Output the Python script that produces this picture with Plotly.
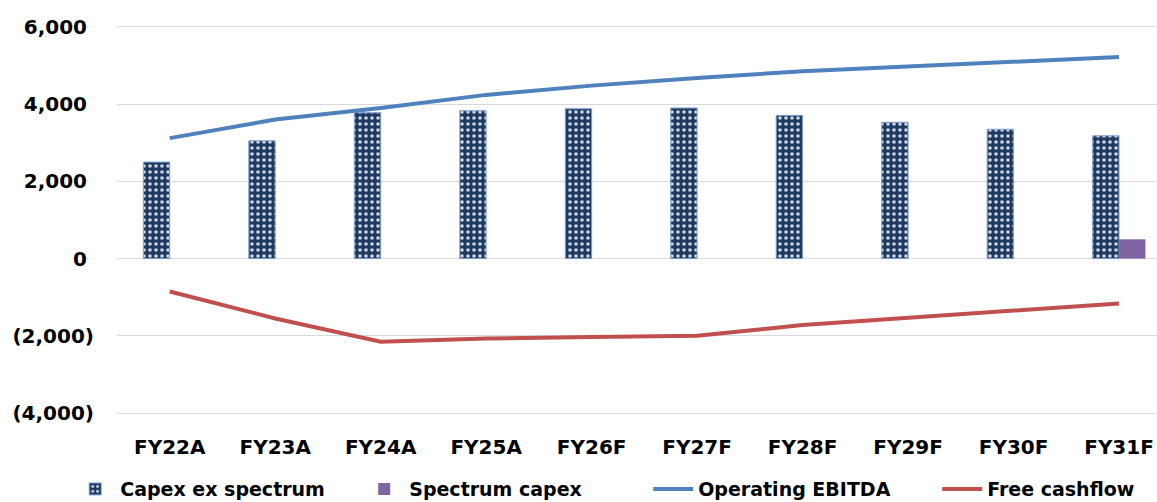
import plotly.graph_objects as go

# Fiscal years and series values
years = ["FY22A", "FY23A", "FY24A", "FY25A", "FY26F", "FY27F", "FY28F", "FY29F", "FY30F", "FY31F"]
capex_ex_spectrum = [2500, 3050, 3780, 3830, 3880, 3900, 3710, 3530, 3350, 3180]
spectrum_capex = [0, 0, 0, 0, 0, 0, 0, 0, 0, 500]
operating_ebitda = [3120, 3600, 3900, 4240, 4480, 4680, 4850, 4970, 5090, 5220]
free_cashflow = [-850, -1550, -2150, -2070, -2030, -2000, -1720, -1540, -1350, -1160]

y_ticks = [6000, 4000, 2000, 0, -2000, -4000]
y_tick_labels = ["6,000\u00a0", "4,000\u00a0", "2,000\u00a0", "0\u00a0", "(2,000)", "(4,000)"]

FONT = "DejaVu Sans"

fig = go.Figure()

fig.add_trace(go.Bar(
    x=years, y=capex_ex_spectrum, name="Capex ex spectrum",
    marker=dict(
        color="#1f3a60",
        line=dict(color="#7f9fcf", width=1),
        pattern=dict(shape=".", fgcolor="#cfd8e4", bgcolor="#1f3a60",
                     size=6, solidity=0.28, fillmode="replace"),
    ),
))
fig.add_trace(go.Bar(
    x=years, y=spectrum_capex, name="Spectrum capex",
    marker=dict(color="#8064a2", line=dict(width=0)),
))
fig.add_trace(go.Scatter(
    x=years, y=operating_ebitda, name="Operating EBITDA", mode="lines",
    line=dict(color="#4f81bd", width=4),
))
fig.add_trace(go.Scatter(
    x=years, y=free_cashflow, name="Free cashflow", mode="lines",
    line=dict(color="#c0504d", width=4),
))

fig.update_layout(
    width=1157, height=502,
    margin=dict(l=117, r=0, t=25, b=87, autoexpand=False),
    paper_bgcolor="white", plot_bgcolor="white",
    barmode="group", bargap=0.5, bargroupgap=0,
    font=dict(family=FONT, size=20, color="#000000"),
    showlegend=True,
    legend=dict(
        orientation="h", x=-0.045, xanchor="left", y=-0.19, yanchor="middle",
        font=dict(family=FONT, size=19, color="#000000", weight="bold"),
        itemwidth=40, tracegroupgap=0,
        entrywidth=234, entrywidthmode="pixels",
        bgcolor="rgba(0,0,0,0)",
    ),
    xaxis=dict(
        type="category", range=[-0.5, 9.36],
        showgrid=False, zeroline=False, showline=False, ticks="",
        tickfont=dict(family=FONT, size=20, color="#000000", weight="bold"),
        ticklabelstandoff=18,
    ),
    yaxis=dict(
        range=[-4050, 6050], tickvals=y_ticks, ticktext=y_tick_labels,
        showgrid=True, gridcolor="#d9d9d9", gridwidth=1,
        zeroline=False, showline=False, ticks="",
        tickfont=dict(family=FONT, size=20, color="#000000", weight="bold"),
        ticklabelstandoff=22,
    ),
)

fig.write_html("out.html")
